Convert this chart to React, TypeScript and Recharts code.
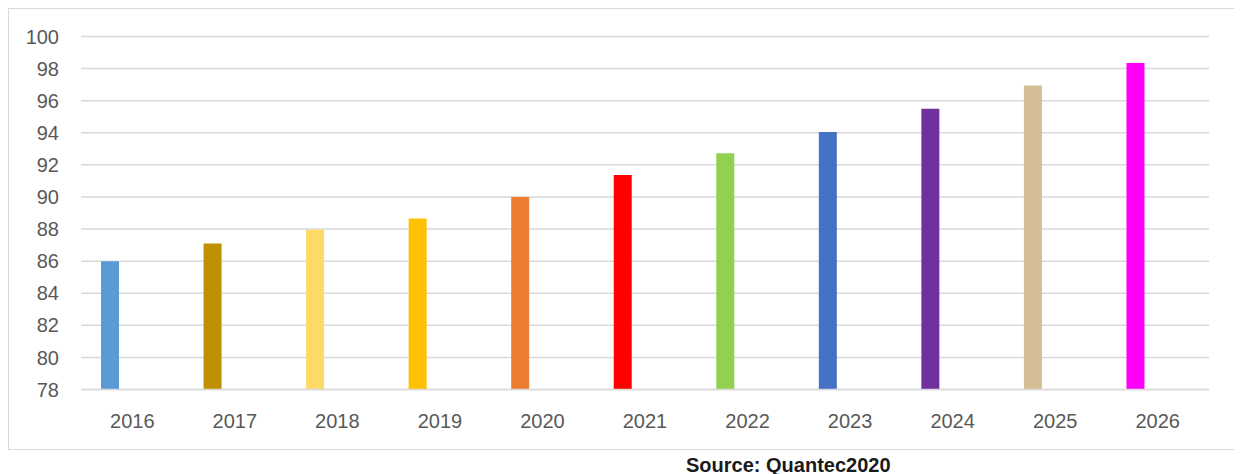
import React from "react";
import { BarChart, Bar, XAxis, YAxis, CartesianGrid, Cell } from "recharts";

const years = ["2016", "2017", "2018", "2019", "2020", "2021", "2022", "2023", "2024", "2025", "2026"];
const values = [86.0, 87.1, 87.95, 88.65, 90.0, 91.37, 92.73, 94.05, 95.5, 96.95, 98.35];
const colors = ["#5B9BD5", "#BF9000", "#FFD966", "#FFC000", "#ED7D31", "#FF0000", "#92D050", "#4472C4", "#7030A0", "#D5BD96", "#FF00FF"];
const yTicks = [78, 80, 82, 84, 86, 88, 90, 92, 94, 96, 98, 100];

const data = years.map((y, i) => ({ year: y, value: values[i], blank: null }));

const tickStyle = { fill: "#595959", fontSize: 20, fontFamily: "'Liberation Sans', Arial, sans-serif" };

export default function App() {
  return (
    <div style={{ position: "relative", width: 1226, height: 474 }}>
      <div style={{ position: "absolute", left: 0, top: 0, width: 1226, height: 440, border: "1px solid #d9d9d9" }}>
        <BarChart
          width={1226}
          height={440}
          data={data}
          margin={{ top: 27.5, right: 26, bottom: 29.5, left: 0 }}
          barSize={18}
          barGap={26}
        >
          <CartesianGrid vertical={false} stroke="#d9d9d9" strokeWidth={1.5} />
          <XAxis
            dataKey="year"
            tick={tickStyle}
            tickLine={false}
            axisLine={{ stroke: "#d9d9d9", strokeWidth: 1.5 }}
            tickMargin={18}
            height={30}
          />
          <YAxis
            domain={[78, 100]}
            ticks={yTicks}
            interval={0}
            tick={tickStyle}
            tickLine={false}
            axisLine={false}
            tickMargin={16}
            width={72}
            allowDataOverflow
          />
          <Bar dataKey="value" isAnimationActive={false}>
            {data.map((d, i) => (
              <Cell key={d.year} fill={colors[i]} />
            ))}
          </Bar>
          <Bar dataKey="blank" isAnimationActive={false} fill="transparent" />
        </BarChart>
      </div>
      <div
        style={{
          position: "absolute",
          left: 678,
          top: 446,
          fontFamily: "'Liberation Sans', Arial, sans-serif",
          fontWeight: "bold",
          fontSize: 20,
          color: "#1a1a1a",
          whiteSpace: "nowrap",
        }}
      >
        Source: Quantec2020
      </div>
    </div>
  );
}
